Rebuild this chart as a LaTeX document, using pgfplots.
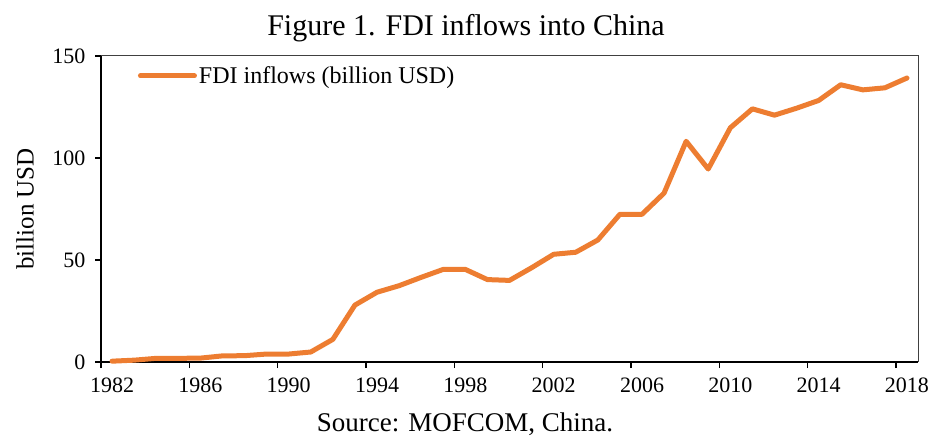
\documentclass[border=0pt]{standalone}
\usepackage{pgfplots}
\pgfplotsset{compat=1.18}
\usepackage{fontspec}
\setmainfont{Liberation Serif}
\definecolor{fdiorange}{RGB}{237,125,49}
\begin{document}
\begin{tikzpicture}
\useasboundingbox (-101bp,-76bp) rectangle (831bp,362bp);
\begin{axis}[
  at={(0,0)}, anchor=south west,
  scale only axis, width=817bp, height=306bp,
  xmin=1981.5, xmax=2018.5, ymin=0, ymax=150,
  axis x line*=bottom, axis y line*=left,
  axis line style={-, black, line width=1.4bp},
  xtick={1981.5,1985.5,...,2017.5},
  xticklabels={1982,1986,1990,1994,1998,2002,2006,2010,2014,2018},
  xticklabel style={xshift=11.04bp, yshift=-6bp},
  ytick={0,50,100,150},
  yticklabels={0,50,100,150},
  yticklabel style={xshift=-6bp},
  tick align=outside, major tick length=6bp,
  tick style={black, line width=1.2bp},
  tick label style={font=\fontsize{22bp}{26bp}\selectfont},
  ylabel={billion USD},
  ylabel style={at={(axis description cs:-0.093,0.5)}, anchor=center, font=\fontsize{25bp}{30bp}\selectfont},
  legend style={draw=none, fill=none, at={(axis description cs:0.045,0.935)}, anchor=west, inner sep=0pt,
    font=\fontsize{24bp}{28bp}\selectfont},
  legend cell align=left,
  legend image code/.code={\draw[#1, line cap=round] (0bp,0bp) -- (54bp,0bp);},
  clip=false,
]
\addplot[color=fdiorange, line width=5bp, line cap=round, line join=round] coordinates {
(1982,0.4) (1983,0.9) (1984,1.8) (1985,1.8) (1986,1.9) (1987,3.0) (1988,3.1) (1989,3.9)
(1990,3.9) (1991,4.9) (1992,11.1) (1993,27.9) (1994,34.2) (1995,37.4) (1996,41.5) (1997,45.4)
(1998,45.4) (1999,40.4) (2000,40.0) (2001,46.2) (2002,52.8) (2003,53.8) (2004,59.8) (2005,72.4)
(2006,72.4) (2007,82.8) (2008,108.2) (2009,94.6) (2010,114.8) (2011,124.1) (2012,121.0) (2013,124.4)
(2014,128.2) (2015,135.9) (2016,133.4) (2017,134.4) (2018,139.2)
};
\addlegendentry{FDI inflows (billion USD)}
\draw[black!75, line width=1bp] (rel axis cs:0,1) -- (rel axis cs:1,1) -- (rel axis cs:1,0);
\end{axis}
\node[anchor=base, font=\fontsize{30bp}{36bp}\selectfont] at (365bp,326bp) {Figure 1. FDI inflows into China};
\node[anchor=base, font=\fontsize{27bp}{32bp}\selectfont] at (364bp,-69bp) {Source: MOFCOM, China.};
\end{tikzpicture}
\end{document}
